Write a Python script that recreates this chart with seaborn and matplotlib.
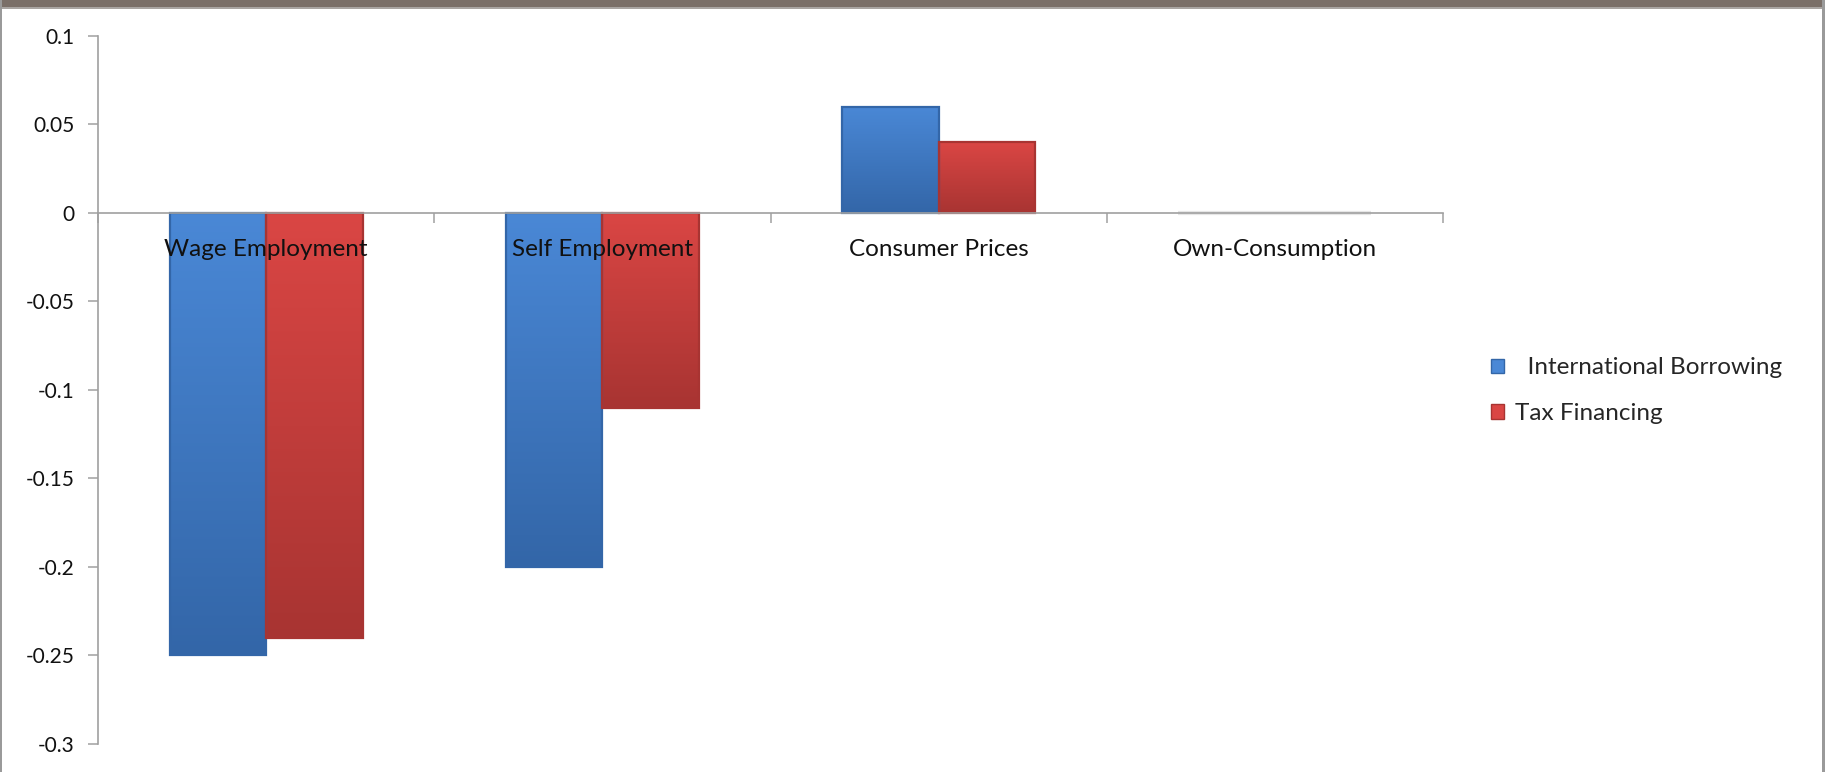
import numpy as np
import pandas as pd
import matplotlib
matplotlib.use("Agg")
import matplotlib.pyplot as plt
import seaborn as sns
from matplotlib.patches import Rectangle
from matplotlib.colors import LinearSegmentedColormap

categories = ["Wage Employment", "Self Employment", "Consumer Prices", "Own-Consumption"]
intl_borrowing = [-0.25, -0.20, 0.06, 0.0]
tax_financing = [-0.24, -0.11, 0.04, 0.0]
series_names = ["  International Borrowing", "Tax Financing"]
y_ticks = [0.1, 0.05, 0, -0.05, -0.1, -0.15, -0.2, -0.25, -0.3]
y_tick_labels = ["0.1", "0.05", "0", "-0.05", "-0.1", "-0.15", "-0.2", "-0.25", "-0.3"]

df = pd.DataFrame({
    "category": categories * 2,
    "series": [series_names[0]] * 4 + [series_names[1]] * 4,
    "value": intl_borrowing + tax_financing,
})

sns.set_theme(style="white")
plt.rcParams["font.family"] = ["Lato", "DejaVu Sans"]

palette = {series_names[0]: "#3B78C6", series_names[1]: "#C73B3B"}
grad = {
    series_names[0]: ("#4A88D6", "#3366A8"),
    series_names[1]: ("#DA4644", "#A83432"),
}

fig = plt.figure(figsize=(18.25, 7.72), dpi=100)
fig.patch.set_facecolor("white")
ax = fig.add_axes([0.0537, 0.0363, 0.7370, 0.9171])

sns.barplot(data=df, x="category", y="value", hue="series", palette=palette,
            width=0.574, ax=ax, legend=True, saturation=1, errorbar=None)

ax.set_xlim(-0.5, 3.5)
ax.set_ylim(-0.3, 0.1)
ax.set_xlabel("")
ax.set_ylabel("")

# gradient + bevel-like edge on each bar
n_cat = len(categories)
for i, patch in enumerate(ax.patches[: 2 * n_cat]):
    name = series_names[i // n_cat]
    x0, y0 = patch.get_x(), patch.get_y()
    w, h = patch.get_width(), patch.get_height()
    if abs(h) < 1e-9:
        patch.set_facecolor("none")
        patch.set_edgecolor("#e6e6e6")
        patch.set_linewidth(3)
        continue
    top_c, bot_c = grad[name]
    cmap = LinearSegmentedColormap.from_list("g", [bot_c, top_c])
    gimg = np.linspace(0, 1, 256).reshape(-1, 1)
    ylo, yhi = min(y0, y0 + h), max(y0, y0 + h)
    im = ax.imshow(gimg, cmap=cmap, aspect="auto", origin="lower",
                   extent=(x0, x0 + w, ylo, yhi), zorder=1.2)
    im.set_clip_path(patch)
    patch.set_edgecolor(bot_c)
    patch.set_linewidth(1.6)
    patch.set_zorder(1.3)
    patch.set_facecolor("none")

ax.set_xlim(-0.5, 3.5)
ax.set_ylim(-0.3, 0.1)

# axis text sits on top of the bars
ax.set_axisbelow(False)
ax.xaxis.set_zorder(3)
ax.yaxis.set_zorder(3)

# spines: left axis and a category axis running along zero
for s in ["top", "right"]:
    ax.spines[s].set_visible(False)
ax.spines["bottom"].set_position(("data", 0))
ax.spines["left"].set_color("#a0a0a0")
ax.spines["bottom"].set_color("#a0a0a0")
ax.spines["left"].set_linewidth(1.2)
ax.spines["bottom"].set_linewidth(1.2)

ax.set_yticks(y_ticks)
ax.set_yticklabels(y_tick_labels)
ax.tick_params(axis="y", which="major", length=7, width=1.1, color="#a0a0a0",
               direction="out", pad=10, labelsize=15, labelcolor="#111111", left=True)

ax.set_xticks(range(n_cat))
ax.set_xticklabels(categories)
ax.set_xticks(np.arange(-0.5, n_cat, 1.0), minor=True)
ax.tick_params(axis="x", which="major", length=0, pad=19, labelsize=17.5,
               labelcolor="#111111", bottom=True)
ax.tick_params(axis="x", which="minor", length=7, width=1.1, color="#a0a0a0",
               direction="out", bottom=True)

leg = ax.legend(loc="center left", bbox_to_anchor=(0.805, 0.494),
                bbox_transform=fig.transFigure, frameon=False, fontsize=17.5,
                handlelength=0.55, handleheight=0.55, handletextpad=0.45,
                labelspacing=1.0)
for h, name in zip(leg.legend_handles, series_names):
    h.set_facecolor(grad[name][0])
    h.set_edgecolor(grad[name][1])

# window-style frame around the chart
fig.add_artist(Rectangle((0, 1 - 7 / 772), 1, 7 / 772, transform=fig.transFigure,
                         facecolor="#7a6f68", edgecolor="none"))
fig.add_artist(Rectangle((0, 1 - 9 / 772), 1, 2 / 772, transform=fig.transFigure,
                         facecolor="#a9a5a2", edgecolor="none"))
fig.add_artist(Rectangle((0, 0), 2 / 1825, 1, transform=fig.transFigure,
                         facecolor="#9a9a9a", edgecolor="none"))
fig.add_artist(Rectangle((1 - 3 / 1825, 0), 3 / 1825, 1, transform=fig.transFigure,
                         facecolor="#9a9a9a", edgecolor="none"))

fig.savefig("out.png", dpi=100)
